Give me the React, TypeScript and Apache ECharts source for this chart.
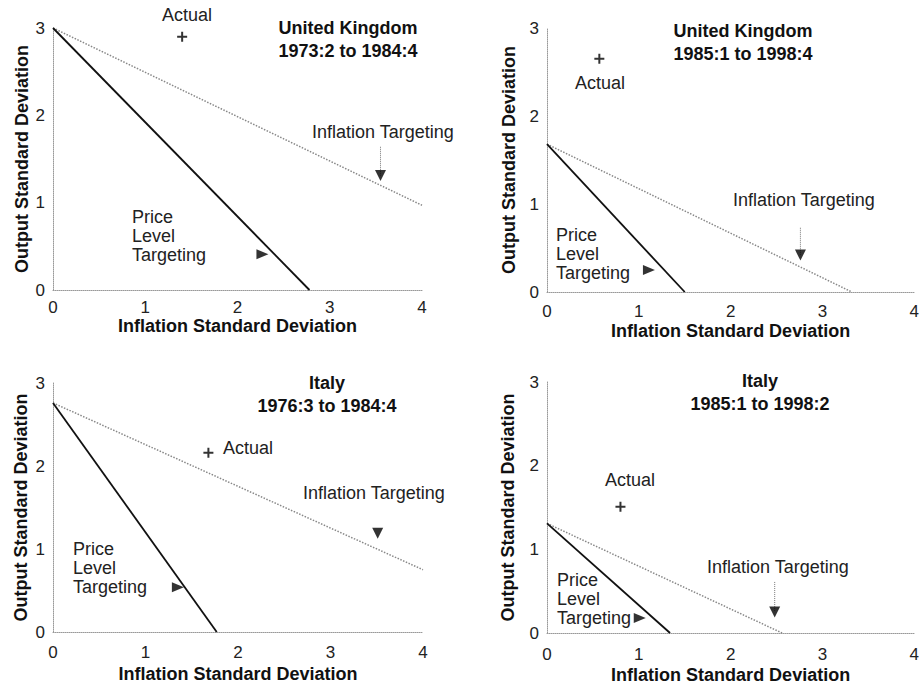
import React, { useEffect, useRef } from "react";
import * as echarts from "echarts";

// ---- data ----
const panelCountry = ["United Kingdom", "United Kingdom", "Italy", "Italy"];
const panelPeriod = ["1973:2 to 1984:4", "1985:1 to 1998:4", "1976:3 to 1984:4", "1985:1 to 1998:2"];
const xTickValues = [0, 1, 2, 3, 4];
const yTickValues = [0, 1, 2, 3];
// frontier start (inflation SD = 0)
const startOutputSD = [3.0, 1.68, 2.76, 1.31];
// price level targeting frontier: hits output SD = 0 at this inflation SD
const pltInflationIntercept = [2.78, 1.5, 1.77, 1.34];
// inflation targeting frontier end point
const itEndInflation = [4.0, 3.32, 4.0, 2.56];
const itEndOutput = [0.97, 0, 0.75, 0];
// actual outcome
const actualInflation = [1.4, 0.57, 1.68, 0.8];
const actualOutput = [2.9, 2.65, 2.16, 1.51];
// arrows
const itArrowX = [3.55, 2.76, 3.51, 2.48];
const itArrowHeadY = [1.31, 0.42, 1.19, 0.25];
const itArrowStemTop = [1.64, 0.73, null, 0.61];
const pltArrowX = [2.27, 1.11, 1.35, 1.01];
const pltArrowY = [0.41, 0.25, 0.54, 0.18];

// ---- layout ----
const grids = [
  { left: 53, top: 28, width: 369, height: 262 },
  { left: 547, top: 28, width: 371, height: 264 },
  { left: 53, top: 383, width: 370, height: 249 },
  { left: 547, top: 382, width: 376, height: 251 },
];
const xNameGap = [26, 30, 33, 33];
const yNameGap = [22, 29, 23, 30];
const xLabelMargin = [9, 11, 12, 13];
const titlePos = [
  { x: 348, y: 16 },
  { x: 743, y: 19 },
  { x: 327, y: 371 },
  { x: 760, y: 369 },
];
const actualPos = [
  { x: 187, y: 15, align: "center" },
  { x: 600, y: 83, align: "center" },
  { x: 223, y: 448, align: "left" },
  { x: 630, y: 480, align: "center" },
];
const itLabelPos = [
  { x: 312, y: 132 },
  { x: 733, y: 200 },
  { x: 303, y: 493 },
  { x: 707, y: 567 },
];
const pltLabelPos = [
  { x: 132, y: 207 },
  { x: 556, y: 225 },
  { x: 73, y: 539 },
  { x: 557, y: 570 },
];

const FONT = "'Liberation Sans', Arial, Helvetica, sans-serif";
const PLUS = "path://M4,0H6V4H10V6H6V10H4V6H0V4H4Z";
const TRI_RIGHT = "path://M0,0L10,5L0,10Z";
const TRI_DOWN = "path://M0,0L10,0L5,10Z";

export default function App() {
  const ref = useRef<HTMLDivElement>(null);
  useEffect(() => {
    if (!ref.current) return;
    const chart = echarts.init(ref.current, undefined, { renderer: "svg" });
    const xAxis: any[] = [];
    const yAxis: any[] = [];
    const series: any[] = [];
    const graphic: any[] = [];
    const title: any[] = [];
    for (let i = 0; i < 4; i++) {
      xAxis.push({
        gridIndex: i,
        type: "value",
        min: xTickValues[0],
        max: xTickValues[xTickValues.length - 1],
        interval: 1,
        name: "Inflation Standard Deviation",
        nameLocation: "middle",
        nameGap: xNameGap[i],
        nameTextStyle: { fontFamily: FONT, fontSize: 18, fontWeight: "bold", color: "#111" },
        axisLine: { show: true, lineStyle: { color: "#999", type: "dotted", width: 1 } },
        axisTick: { show: false },
        splitLine: { show: false },
        axisLabel: { fontFamily: FONT, fontSize: 17, color: "#222", margin: xLabelMargin[i] },
      });
      yAxis.push({
        gridIndex: i,
        type: "value",
        min: yTickValues[0],
        max: yTickValues[yTickValues.length - 1],
        interval: 1,
        name: "Output Standard Deviation",
        nameLocation: "middle",
        nameGap: yNameGap[i],
        nameTextStyle: { fontFamily: FONT, fontSize: 18, fontWeight: "bold", color: "#111" },
        axisLine: { show: true, lineStyle: { color: "#999", type: "dotted", width: 1 } },
        axisTick: { show: false },
        splitLine: { show: false },
        axisLabel: { fontFamily: FONT, fontSize: 17, color: "#222", margin: 8 },
      });
      // price level targeting frontier
      series.push({
        type: "line",
        xAxisIndex: i,
        yAxisIndex: i,
        data: [
          [0, startOutputSD[i]],
          [pltInflationIntercept[i], 0],
        ],
        showSymbol: false,
        lineStyle: { color: "#111", width: 1.8 },
        z: 3,
      });
      // inflation targeting frontier
      series.push({
        type: "line",
        xAxisIndex: i,
        yAxisIndex: i,
        data: [
          [0, startOutputSD[i]],
          [itEndInflation[i], itEndOutput[i]],
        ],
        showSymbol: false,
        lineStyle: { color: "#888", width: 1.5, type: "dotted" },
        z: 2,
      });
      // actual
      series.push({
        type: "scatter",
        xAxisIndex: i,
        yAxisIndex: i,
        data: [[actualInflation[i], actualOutput[i]]],
        symbol: PLUS,
        symbolSize: 10,
        itemStyle: { color: "#000" },
      });
      // IT arrow stem
      if (itArrowStemTop[i] !== null) {
        series.push({
          type: "line",
          xAxisIndex: i,
          yAxisIndex: i,
          data: [
            [itArrowX[i], itArrowStemTop[i]],
            [itArrowX[i], itArrowHeadY[i]],
          ],
          showSymbol: false,
          lineStyle: { color: "#777", width: 1, type: "dotted" },
        });
      }
      // IT arrow head
      series.push({
        type: "scatter",
        xAxisIndex: i,
        yAxisIndex: i,
        data: [[itArrowX[i], itArrowHeadY[i]]],
        symbol: TRI_DOWN,
        symbolSize: [11, 11],
        itemStyle: { color: "#000" },
        z: 4,
      });
      // PLT arrow head
      series.push({
        type: "scatter",
        xAxisIndex: i,
        yAxisIndex: i,
        data: [[pltArrowX[i], pltArrowY[i]]],
        symbol: TRI_RIGHT,
        symbolSize: [12, 10],
        itemStyle: { color: "#000" },
        z: 4,
      });
      title.push({
        text: panelCountry[i] + "\n" + panelPeriod[i],
        left: titlePos[i].x,
        top: titlePos[i].y,
        textAlign: "center",
        padding: 0,
        textStyle: { fontFamily: FONT, fontSize: 18, fontWeight: "bold", color: "#111", lineHeight: 23 },
      });
      graphic.push({
        type: "text",
        x: actualPos[i].x,
        y: actualPos[i].y,
        style: {
          text: "Actual",
          fontFamily: FONT,
          fontSize: 18,
          fill: "#222",
          align: actualPos[i].align,
          verticalAlign: "middle",
        },
      });
      graphic.push({
        type: "text",
        x: itLabelPos[i].x,
        y: itLabelPos[i].y,
        style: {
          text: "Inflation Targeting",
          fontFamily: FONT,
          fontSize: 18,
          fill: "#222",
          align: "left",
          verticalAlign: "middle",
        },
      });
      graphic.push({
        type: "text",
        x: pltLabelPos[i].x,
        y: pltLabelPos[i].y,
        style: {
          text: "Price\nLevel\nTargeting",
          fontFamily: FONT,
          fontSize: 18,
          lineHeight: 19,
          fill: "#222",
          align: "left",
          verticalAlign: "top",
        },
      });
    }
    chart.setOption({
      animation: false,
      backgroundColor: "#fff",
      grid: grids.map((g) => ({ ...g, containLabel: false })),
      xAxis,
      yAxis,
      series,
      title,
      graphic,
    });
    return () => chart.dispose();
  }, []);
  return (
    <div
      ref={ref}
      style={{ position: "fixed", left: 0, top: 0, width: 922, height: 692, background: "#fff" }}
    />
  );
}
